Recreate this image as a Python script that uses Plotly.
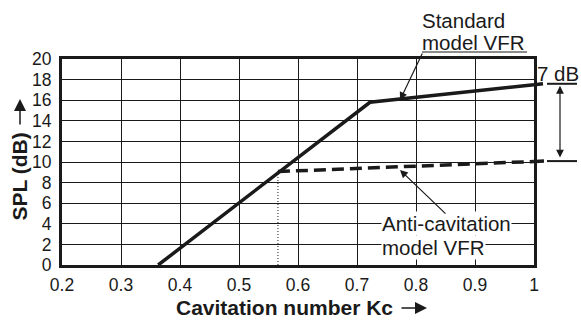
import plotly.graph_objects as go

# ---- data ----
kc_standard = [0.363, 0.722, 1.0]
spl_standard = [0.0, 15.8, 17.5]
kc_anti = [0.566, 1.0]
spl_anti = [9.07, 10.05]
x_ticks = [0.2, 0.3, 0.4, 0.5, 0.6, 0.7, 0.8, 0.9, 1.0]
x_tick_labels = ["0.2", "0.3", "0.4", "0.5", "0.6", "0.7", "0.8", "0.9", "1"]
y_ticks = list(range(0, 21, 2))
gap_label = "7 dB"
x_title = "Cavitation number Kc"
y_title = "SPL (dB)"

W, H = 581, 320
L, R, T, B = 62, 47, 59, 55
PW, PH = W - L - R, H - T - B
X0, X1, Y0, Y1 = 0.2, 1.0, 0.0, 20.0

def px_x(px):  # pixel -> paper x
    return (px - L) / PW

def px_y(py):  # pixel -> paper y
    return (H - B - py) / PH

def yp(v):  # data y -> paper y
    return (v - Y0) / (Y1 - Y0)

def dx(px):  # pixel x -> data x
    return X0 + (px - L) / PW * (X1 - X0)

def dy(py):  # pixel y -> data y
    return Y0 + (H - B - py) / PH * (Y1 - Y0)

FONT = "Liberation Sans, Arial, sans-serif"
INK = "#1a1a1a"
fig = go.Figure()

fig.add_trace(go.Scatter(x=kc_standard, y=spl_standard, mode="lines",
                         line=dict(color=INK, width=3.5), showlegend=False))
fig.add_trace(go.Scatter(x=kc_anti, y=spl_anti, mode="lines",
                         line=dict(color=INK, width=3.5, dash="12px,6px"),
                         showlegend=False))
fig.add_trace(go.Scatter(x=[kc_anti[0], kc_anti[0]], y=[0, spl_anti[0]], mode="lines",
                         line=dict(color=INK, width=1, dash="1px,2px"),
                         showlegend=False))

# extensions of both curves beyond the right border
slope_s = (spl_standard[-1] - spl_standard[-2]) / (kc_standard[-1] - kc_standard[-2])
slope_a = (spl_anti[-1] - spl_anti[-2]) / (kc_anti[-1] - kc_anti[-2])
ext_s = 9 / PW * (X1 - X0)
ext_a = 10 / PW * (X1 - X0)
s_end = spl_standard[-1] + slope_s * ext_s
a_end = spl_anti[-1] + slope_a * ext_a

shapes = [
    dict(type="line", xref="paper", yref="paper", x0=1.0, x1=1.0 + 9 / PW,
         y0=yp(spl_standard[-1]), y1=yp(s_end), line=dict(color=INK, width=3.5)),
    dict(type="line", xref="paper", yref="paper", x0=1.0 + 1 / PW, x1=1.0 + 10 / PW,
         y0=yp(spl_anti[-1]), y1=yp(a_end), line=dict(color=INK, width=3.5)),
    # dimension lines
    dict(type="line", xref="paper", yref="paper", x0=px_x(547), x1=px_x(577),
         y0=yp(s_end), y1=yp(s_end), line=dict(color=INK, width=2)),
    dict(type="line", xref="paper", yref="paper", x0=px_x(547), x1=px_x(577),
         y0=yp(a_end), y1=yp(a_end), line=dict(color=INK, width=2)),
    # underline under the standard label
    dict(type="line", xref="paper", yref="paper", x0=px_x(422), x1=px_x(527),
         y0=px_y(52), y1=px_y(52), line=dict(color=INK, width=1.2)),
]

afont = dict(family=FONT, size=20.5, color=INK)
tfont = dict(family=FONT, size=21, color=INK)
annotations = [
    dict(text="Standard", xref="paper", yref="paper", x=px_x(420), y=px_y(20),
         xanchor="left", yanchor="middle", showarrow=False, font=afont),
    dict(text="model VFR", xref="paper", yref="paper", x=px_x(420), y=px_y(42),
         xanchor="left", yanchor="middle", showarrow=False, font=afont),
    dict(text="Anti-cavitation", xref="paper", yref="paper", x=px_x(381), y=px_y(223),
         xanchor="left", yanchor="middle", showarrow=False, font=afont,
         bgcolor="white", borderpad=0),
    dict(text="model VFR", xref="paper", yref="paper", x=px_x(381), y=px_y(247),
         xanchor="left", yanchor="middle", showarrow=False, font=afont,
         bgcolor="white", borderpad=0),
    dict(text=gap_label, xref="paper", yref="paper", x=px_x(558), y=px_y(73),
         xanchor="center", yanchor="middle", showarrow=False, font=afont),
    # axis titles
    dict(text="<b>" + x_title + "</b>", xref="paper", yref="paper", x=px_x(175),
         y=px_y(319.5), xanchor="left", yanchor="bottom", showarrow=False, font=tfont,
         borderpad=0),
    dict(text="<b>" + y_title + "</b>", xref="paper", yref="paper", x=px_x(18.5),
         y=px_y(177), xanchor="center", yanchor="middle", textangle=-90,
         showarrow=False, font=tfont),
    # title arrows
    dict(text="", xref="paper", yref="paper", x=px_x(427), y=px_y(308),
         ax=-27, ay=0, axref="pixel", ayref="pixel",
         showarrow=True, arrowhead=2, arrowsize=1.6, arrowwidth=1.5, arrowcolor=INK),
    dict(text="", xref="paper", yref="paper", x=px_x(20), y=px_y(99),
         ax=0, ay=27, axref="pixel", ayref="pixel",
         showarrow=True, arrowhead=2, arrowsize=1.6, arrowwidth=1.5, arrowcolor=INK),
    # pointer arrows
    dict(text="", xref="x", yref="y", x=dx(400), y=dy(100), axref="x", ayref="y",
         ax=dx(423), ay=dy(52), showarrow=True, arrowhead=2, arrowsize=1.3,
         arrowwidth=1.2, arrowcolor=INK),
    dict(text="", xref="x", yref="y", x=dx(400), y=dy(170), axref="x", ayref="y",
         ax=dx(447), ay=dy(215), showarrow=True, arrowhead=2, arrowsize=1.3,
         arrowwidth=1.2, arrowcolor=INK),
    dict(text="", xref="paper", yref="y", x=px_x(560), y=s_end - 0.2, axref="pixel",
         ayref="y", ax=0, ay=a_end + 0.2, showarrow=True, arrowhead=2,
         arrowside="end+start", arrowsize=1.3, arrowwidth=1.2, arrowcolor=INK),
]

fig.update_layout(
    width=W, height=H, margin=dict(l=L, r=R, t=T, b=B, autoexpand=False),
    paper_bgcolor="white", plot_bgcolor="white",
    font=dict(family=FONT, size=17.5, color=INK),
    shapes=shapes, annotations=annotations, showlegend=False,
    xaxis=dict(range=[X0, X1], tickvals=x_ticks, ticktext=x_tick_labels,
               showgrid=True, gridcolor=INK, gridwidth=1,
               showline=True, linecolor=INK, linewidth=3, mirror=True,
               ticks="", zeroline=False, ticklabelstandoff=2),
    yaxis=dict(range=[Y0, Y1], tickvals=y_ticks,
               showgrid=True, gridcolor=INK, gridwidth=1,
               showline=True, linecolor=INK, linewidth=3, mirror=True,
               ticks="", zeroline=False, ticklabelstandoff=4),
)

fig.write_html("out.html", config={"displayModeBar": False},
               post_script="document.body.style.margin='0';document.body.style.overflow='hidden';")
